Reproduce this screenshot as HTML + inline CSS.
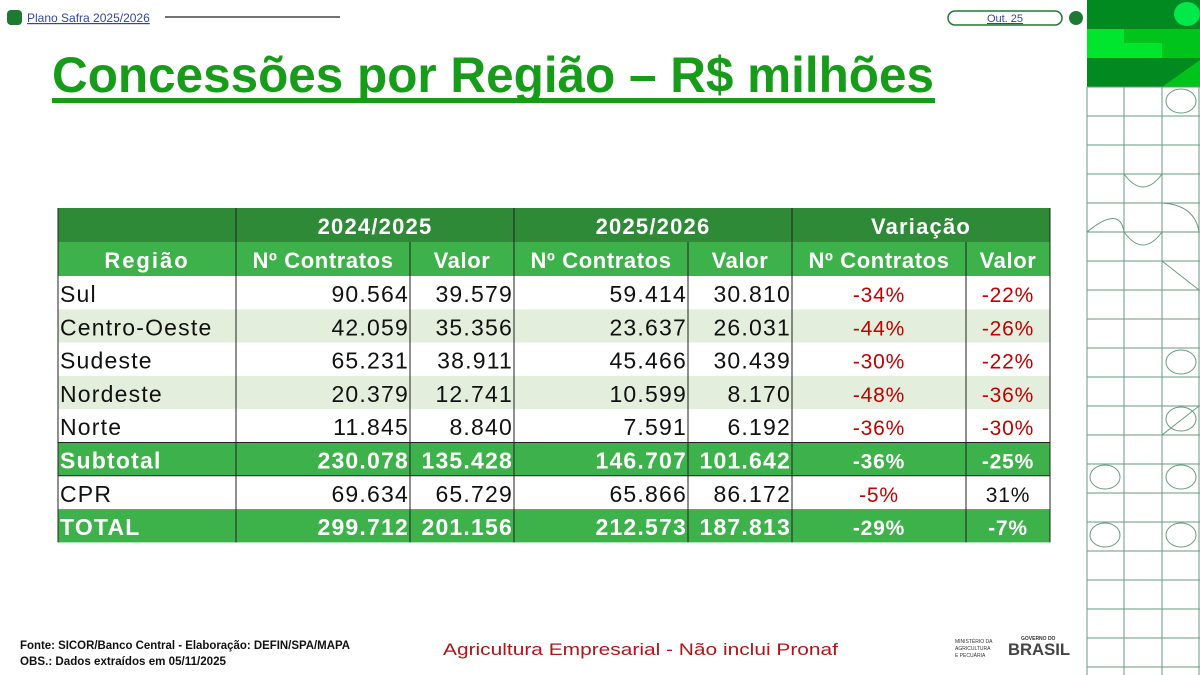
<!DOCTYPE html>
<html><head><meta charset="utf-8"><style>
body{margin:0;width:1200px;height:675px;overflow:hidden;background:#fff;font-family:"Liberation Sans",sans-serif}
svg{display:block}
</style></head><body>
<svg id="s" width="1200" height="675" viewBox="0 0 1200 675">
<rect x="7" y="10" width="15" height="15" rx="4" fill="#1e7a32"/>
<text x="27" y="22" font-size="12" fill="#3344aa" text-decoration="underline">Plano Safra 2025/2026</text>
<line x1="165" y1="17" x2="340" y2="17" stroke="#444" stroke-width="1.5"/>
<rect x="948" y="11" width="114" height="14" rx="7" fill="#fff" stroke="#1e7a32" stroke-width="1.5"/>
<text x="1005" y="22" font-size="11" fill="#3344aa" text-anchor="middle" text-decoration="underline">Out. 25</text>
<circle cx="1076" cy="18" r="7" fill="#1e7a32"/>
<text x="52" y="92" font-size="50" font-weight="bold" fill="#179c1a" textLength="882" lengthAdjust="spacingAndGlyphs">Concessões por Região – R$ milhões</text>
<rect x="52" y="98" width="883" height="5" fill="#179c1a"/>
<g id="tbl"></g>
<g id="deco"></g>
<text x="20" y="649" font-size="12" font-weight="bold" fill="#111" textLength="330" lengthAdjust="spacingAndGlyphs">Fonte: SICOR/Banco Central - Elaboração: DEFIN/SPA/MAPA</text>
<text x="20" y="665" font-size="12" font-weight="bold" fill="#111" textLength="206" lengthAdjust="spacingAndGlyphs">OBS.: Dados extraídos em 05/11/2025</text>
<text x="443" y="655" font-size="17" fill="#b01515" textLength="395" lengthAdjust="spacingAndGlyphs">Agricultura Empresarial -  Não inclui Pronaf</text>
<g>
<text x="955" y="643" font-size="5" fill="#333">MINISTÉRIO DA</text>
<text x="955" y="650" font-size="5" fill="#333">AGRICULTURA</text>
<text x="955" y="657" font-size="5" fill="#333">E PECUÁRIA</text>
<text x="1021" y="640" font-size="5" font-weight="bold" fill="#333">GOVERNO DO</text>
<text x="1008" y="655" font-size="17" font-weight="bold" fill="#444" textLength="62" lengthAdjust="spacingAndGlyphs">BRASIL</text>
</g>
</svg>
<script>
const NS="http://www.w3.org/2000/svg";
const regions=["Sul","Centro-Oeste","Sudeste","Nordeste","Norte","Subtotal","CPR","TOTAL"];
const contratos2425=["90.564","42.059","65.231","20.379","11.845","230.078","69.634","299.712"];
const valor2425=["39.579","35.356","38.911","12.741","8.840","135.428","65.729","201.156"];
const contratos2526=["59.414","23.637","45.466","10.599","7.591","146.707","65.866","212.573"];
const valor2526=["30.810","26.031","30.439","8.170","6.192","101.642","86.172","187.813"];
const varContratos=["-34%","-44%","-30%","-48%","-36%","-36%","-5%","-29%"];
const varValor=["-22%","-26%","-22%","-36%","-30%","-25%","31%","-7%"];
const groupHeaders=["2024/2025","2025/2026","Variação"];
const colHeaders=["Região","Nº Contratos","Valor","Nº Contratos","Valor","Nº Contratos","Valor"];

function mk(tag,attrs,parent){const e=document.createElementNS(NS,tag);for(const k in attrs)e.setAttribute(k,attrs[k]);parent.appendChild(e);return e;}
const T=document.getElementById('tbl');
const X=[58,236,410,514,688,792,966,1050];
const y0=208,hh=34,rh=33.3;
const DARK="#2e8a36",MID="#3db14a",ALT="#e3eedd",RED="#c00000";
const LS="1.2";
let r=mk('rect',{x:X[0],y:y0,width:X[7]-X[0],height:hh,fill:DARK},T);


r=mk('rect',{x:X[0],y:y0+hh,width:X[7]-X[0],height:hh,fill:MID},T);


groupHeaders.forEach((g,i)=>{const a=X[1+2*i],b=X[3+2*i];
 const t=mk('text',{x:(a+b)/2,y:y0+26,'font-size':22,'font-weight':'bold','letter-spacing':LS,fill:'#fff','text-anchor':'middle'},T);t.textContent=g;
 
 });
colHeaders.forEach((c,i)=>{const t=mk('text',{x:(X[i]+X[i+1])/2,y:y0+hh+26,'font-size':22,'font-weight':'bold','letter-spacing':i==0?'2':'0.6',fill:'#fff','text-anchor':'middle'},T);t.textContent=c;
 
 });
regions.forEach((reg,i)=>{
 const y=y0+2*hh+i*rh;const total=(reg==="Subtotal"||reg==="TOTAL");
 const fill=total?MID:(i%2==1?ALT:"#fff");
 const rr=mk('rect',{x:X[0],y:y,width:X[7]-X[0],height:rh,fill:fill},T);
 
 
 const col=total?"#fff":"#111";
 const fw=total?'bold':'normal';
 const vals=[contratos2425[i],valor2425[i],contratos2526[i],valor2526[i]];
 let t=mk('text',{x:X[0]+2,y:y+26,'font-size':23,'font-weight':fw,'letter-spacing':LS,fill:col},T);t.textContent=reg;
 
 
 vals.forEach((v,j)=>{const tt=mk('text',{x:X[j+2]-1,y:y+26,'font-size':23,'font-weight':fw,'letter-spacing':LS,fill:col,'text-anchor':'end'},T);tt.textContent=v;
  
  });
 [varContratos[i],varValor[i]].forEach((v,j)=>{const neg=v.startsWith('-');
  const tt=mk('text',{x:(X[5+j]+X[6+j])/2,y:y+26,'font-size':21,'font-weight':fw,'letter-spacing':'0.8',fill:total?"#fff":(neg?RED:"#111"),'text-anchor':'middle'},T);tt.textContent=v;
  
  });
});
const yEnd=y0+2*hh+regions.length*rh;
X.forEach((x,i)=>{const top=(i==2||i==4||i==6)?y0+hh:y0;mk('line',{x1:x,y1:top,x2:x,y2:yEnd,stroke:'#222','stroke-width':1},T);});
[y0+2*hh+5*rh,y0+2*hh+6*rh].forEach(y=>mk('line',{x1:X[0],y1:y,x2:X[7],y2:y,stroke:'#222','stroke-width':1},T));

const D=document.getElementById('deco');
mk('rect',{x:1087,y:0,width:113,height:87,fill:'#008a1f'},D);
mk('rect',{x:1087,y:29,width:113,height:29,fill:'#00e62f'},D);
mk('rect',{x:1162,y:29,width:38,height:29,fill:'#00c41c'},D);
mk('rect',{x:1124,y:29,width:38,height:14,fill:'#00c41c'},D);
mk('polygon',{points:'1162,87 1200,60 1200,87',fill:'#00c41c'},D);
mk('ellipse',{cx:1187,cy:14,rx:13,ry:12,fill:'#00e84a'},D);
const g=mk('g',{stroke:'#6a9a80','stroke-width':1,fill:'none'},D);
[1087,1124,1162,1199].forEach(x=>mk('line',{x1:x,y1:87,x2:x,y2:675},g));
for(let y=87;y<675;y+=29)mk('line',{x1:1087,y1:y,x2:1200,y2:y},g);
[87,116,145].forEach(y=>{mk('path',{d:`M1087 ${y}Q1115 ${y}1124 ${y+29}Q1133 ${y}1162 ${y}`},g);});
[[1181,101],[1181,362],[1181,420],[1105,478],[1181,478],[1105,536],[1181,536]].forEach(([cx,cy])=>mk('ellipse',{cx:cx,cy:cy+(cy>400?-1:0),rx:15,ry:12},g));
mk('path',{d:'M1124 174Q1143 200 1162 174'},g);
mk('path',{d:'M1124 232Q1143 258 1162 232'},g);
mk('path',{d:'M1087 232Q1120 205 1124 232M1162 203Q1195 205 1199 232'},g);
mk('path',{d:'M1162 261L1199 290M1162 435L1199 406'},g);
</script>
</body></html>
